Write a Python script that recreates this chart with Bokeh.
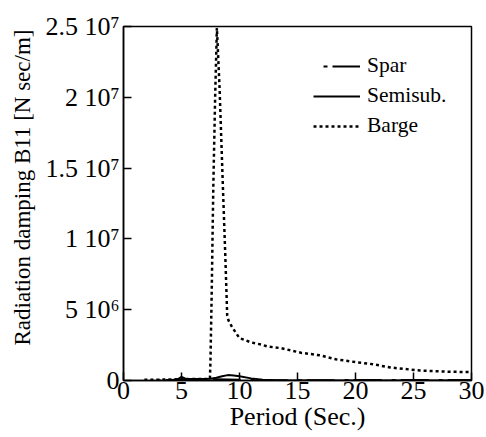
from bokeh.plotting import figure
from bokeh.models import FixedTicker, Range1d, Legend, LegendItem, Title
from bokeh.embed import file_html
from bokeh.resources import INLINE

# ---- data (period in s, damping in N sec/m) ----
period_barge = [1.8, 2.5, 3.0, 3.5, 4.0, 4.5, 5.0, 5.5, 6.0, 6.5, 7.0, 7.3, 7.45,
                7.5, 7.6, 7.74, 7.9, 8.05, 8.28, 8.57, 8.77, 8.94, 9.05, 9.34,
                9.66, 10.0, 10.43, 10.95, 11.87, 12.44, 13.6, 15.3, 17.0, 18.3,
                20.0, 21.5, 23.0, 25.6, 28.0, 30.0]
damping_barge = [0.05e6, 0.06e6, 0.06e6, 0.07e6, 0.07e6, 0.08e6, 0.09e6, 0.09e6,
                 0.1e6, 0.1e6, 0.1e6, 0.1e6, 0.1e6,
                 1.5e6, 6.0e6, 13.6e6, 20.0e6, 24.9e6, 20.7e6, 13.65e6, 8.97e6,
                 4.6e6, 4.24e6, 3.8e6, 3.4e6, 2.99e6, 2.87e6, 2.7e6, 2.54e6,
                 2.4e6, 2.28e6, 1.96e6, 1.77e6, 1.5e6, 1.3e6, 1.15e6, 0.92e6,
                 0.7e6, 0.62e6, 0.59e6]

period_semi = [4.3, 4.7, 5.0, 5.3, 5.7, 6.5, 7.5, 8.0, 8.5, 9.0, 9.5, 10.0,
               11.0, 12.0, 13.0, 15.0, 20.0, 25.0, 30.0]
damping_semi = [0.02e6, 0.1e6, 0.25e6, 0.15e6, 0.1e6, 0.1e6, 0.12e6, 0.2e6,
                0.3e6, 0.38e6, 0.35e6, 0.3e6, 0.15e6, 0.05e6, 0.01e6, 0.0,
                0.0, 0.0, 0.0]

period_spar = [2.0, 5.0, 8.0, 10.0, 12.0, 15.0, 20.0, 25.0, 30.0]
damping_spar = [0.0, 0.05e6, 0.08e6, 0.06e6, 0.03e6, 0.02e6, 0.03e6, 0.03e6, 0.03e6]

x_ticks = [0, 5, 10, 15, 20, 25, 30]
y_ticks = [0, 5e6, 1e7, 1.5e7, 2e7, 2.5e7]
y_tick_labels = ["0", "5 10\u2076", "1 10\u2077", "1.5 10\u2077", "2 10\u2077", "2.5 10\u2077"]

FONT = "'Liberation Serif', 'Times New Roman', 'DejaVu Serif', serif"

p = figure(width=486, height=437, output_backend="svg", toolbar_location=None,
           x_range=Range1d(0, 30), y_range=Range1d(0, 2.5e7),
           min_border_left=122, min_border_right=15, min_border_top=26,
           min_border_bottom=57)

p.xgrid.visible = False
p.ygrid.visible = False
p.outline_line_color = "black"
p.outline_line_width = 1.5
p.background_fill_color = "white"
p.border_fill_color = "white"

r_spar = p.line(period_spar, damping_spar, line_color="black", line_width=2,
                line_dash="4 5 28 10", line_dash_offset=37)
r_semi = p.line(period_semi, damping_semi, line_color="black", line_width=2)
r_barge = p.line(period_barge, damping_barge, line_color="black", line_width=2.5,
                 line_dash="3 3")

for ax in (p.xaxis[0], p.yaxis[0]):
    ax.axis_line_color = "black"
    ax.axis_line_width = 1.5
    ax.major_tick_line_color = "black"
    ax.major_tick_line_width = 1.5
    ax.major_tick_in = 8
    ax.major_tick_out = 0
    ax.minor_tick_line_color = None
    ax.major_label_text_font = FONT
    ax.major_label_text_font_size = "26px"
    ax.major_label_text_color = "black"
    ax.axis_label_text_font = FONT
    ax.axis_label_text_font_size = "26px"
    ax.axis_label_text_font_style = "normal"
    ax.axis_label_text_color = "black"

p.xaxis.ticker = FixedTicker(ticks=x_ticks)
p.yaxis.ticker = FixedTicker(ticks=y_ticks)
p.yaxis.major_label_overrides = {t: l for t, l in zip(y_ticks, y_tick_labels)}
p.xaxis.axis_label = "Period (Sec.)"
p.xaxis.major_label_standoff = 1
p.xaxis.axis_label_standoff = 0
p.yaxis.major_label_standoff = 4

# y-axis title, starting above the bottom of the frame like in the reference
ytitle = Title(text="Radiation damping B11 [N sec/m]", align="left", offset=35,
               text_font=FONT, text_font_size="23px", text_font_style="normal",
               text_color="black", standoff=15)
p.add_layout(ytitle, "left")

legend = Legend(items=[LegendItem(label="Spar", renderers=[r_spar]),
                       LegendItem(label="Semisub.", renderers=[r_semi]),
                       LegendItem(label="Barge", renderers=[r_barge])],
                location=(190, 242))
legend.label_text_font = FONT
legend.label_text_font_size = "21.5px"
legend.label_text_font_style = "normal"
legend.label_text_color = "black"
legend.glyph_width = 47
legend.glyph_height = 20
legend.label_height = 20
legend.spacing = 5
legend.padding = 0
legend.margin = 0
legend.label_standoff = 7
legend.border_line_alpha = 0
legend.background_fill_alpha = 0
p.add_layout(legend)

open("out.html", "w").write(file_html(p, INLINE))
